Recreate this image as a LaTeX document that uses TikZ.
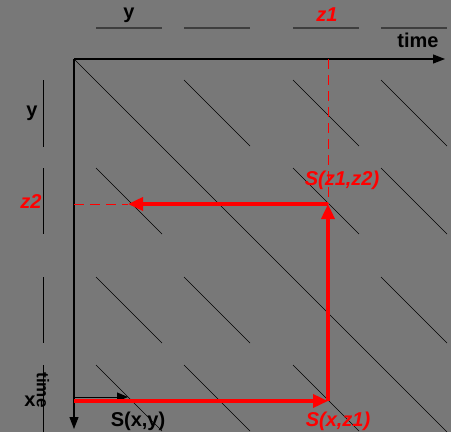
\documentclass[tikz,border=0pt]{standalone}
\usepackage{fontspec}
\setmainfont{Liberation Sans}
\usetikzlibrary{arrows.meta, positioning}
\definecolor{bggray}{RGB}{120,120,120}
\definecolor{markgray}{RGB}{62,62,62}
\definecolor{pathred}{RGB}{255,0,0}

\begin{document}
\begin{tikzpicture}[
  x=1pt, y=-1pt,
  lbl/.style={font=\fontsize{20}{24}\selectfont\bfseries, inner sep=0pt},
  rlbl/.style={lbl, text=pathred, font=\fontsize{20}{24}\selectfont\bfseries\itshape},
  axis/.style={line width=1.2pt, -{Triangle[length=12pt,width=9pt]}},
  hatch/.style={line width=0.7pt},
  period/.style={markgray, line width=1.4pt},
  lperiod/.style={black, line width=0.9pt},
  rpath/.style={pathred, line width=3.5pt, -{Triangle[length=15pt,width=13pt]}},
  rdash/.style={pathred, line width=1pt, dash pattern=on 10pt off 6pt}
]
  \fill[bggray] (0,0) rectangle (451,432);
  \useasboundingbox (0,0) rectangle (451,432);

  % periods on both time axes
  \foreach \p in {96,184,293,381} {
    \draw[period] (\p,28) -- ++(66,0);
  }
  \foreach \p/\l in {80/67,168/66,277/66,365/67} {
    \draw[lperiod] (43,\p) -- ++(0,\l);
  }

  % diagonals
  \foreach \i/\cx in {1/96,2/184,3/293,4/381} {
    \foreach \j/\cy in {1/80,2/168,3/277,4/365} {
      \ifnum\i=\j\else
        \draw[hatch] (\cx,\cy) -- ++(66,66);
      \fi
    }
  }

  \coordinate (O) at (74,59);
  \coordinate (tEnd) at (445,59);
  \coordinate (xEnd) at (74,429);
  \coordinate (diagEnd) at (447,432);
  \coordinate (z1top) at (328,59);
  \coordinate (z2left) at (74,204);
  \coordinate (z2tip) at (128,204);
  \coordinate (Sz1z2) at (328,204);
  \coordinate (Sxz1) at (328,401);
  \coordinate (xred) at (74,401);
  \coordinate (xblack) at (74,397);
  \coordinate (Sxy) at (128,397);

  \draw[hatch] (O) -- (diagEnd);
  \draw[axis] (O) -- (tEnd);
  \draw[axis] (O) -- (xEnd);

  % labels
  \node[lbl] (ytop) at (129,15) {y};
  \node[rlbl] (z1) at (327,15) {z1};
  \node[lbl] (ttop) at (418,40) {time};
  \node[lbl] (yleft) at (32,113) {y};
  \node[rlbl] (z2) at (31,202) {z2};
  \node[lbl] (xlbl) at (30,401) {x};
  \node[lbl, font=\fontsize{17}{20}\selectfont\bfseries, rotate=-90] (tleft) at (43,390) {time};
  \node[lbl] (sxy) at (138,421) {S(x,y)};
  \node[rlbl] (sxz1) at (338,421) {S(x,z1)};
  \node[rlbl] (sz1z2) at (342,180) {S(z1,z2)};

  % path
  \draw[rdash] (z1top) -- (Sz1z2);
  \draw[rdash] (z2left) -- (z2tip);
  \draw[line width=1pt, -{Triangle[length=11pt,width=9pt]}] (xblack) -- (Sxy);
  \draw[rpath] (xred) -- (Sxz1);
  \draw[rpath] (Sxz1) -- (Sz1z2);
  \draw[rpath] (Sz1z2) -- (z2tip);
\end{tikzpicture}
\end{document}
